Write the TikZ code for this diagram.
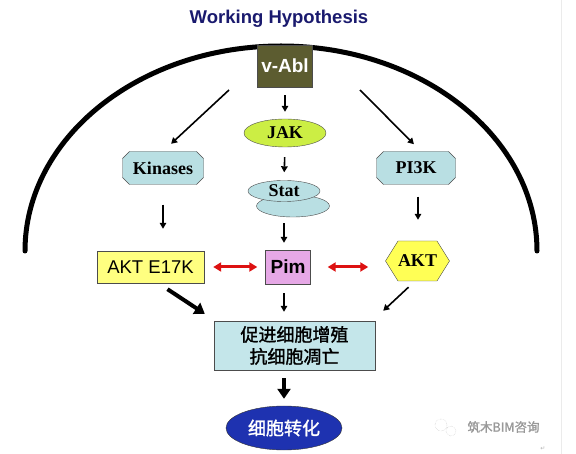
\documentclass[tikz,border=0pt]{standalone}
\usepackage{fontspec}
\setmainfont{Liberation Serif}
\setsansfont{Liberation Sans}
\newfontfamily\cjk[FakeBold=1.5]{Noto Sans CJK SC}
\newfontfamily\symfont{DejaVu Sans}
\usetikzlibrary{arrows.meta,shapes.geometric,shapes.misc,shapes.symbols,positioning}
\definecolor{titleblue}{HTML}{1A1A6E}
\definecolor{ablfill}{HTML}{5C5C30}
\definecolor{jakfill}{HTML}{CCEE44}
\definecolor{paleblue}{HTML}{B9DFE3}
\definecolor{boxblue}{HTML}{C4E6EA}
\definecolor{paleyellow}{HTML}{FFFF80}
\definecolor{pimfill}{HTML}{E6A8E6}
\definecolor{hexyellow}{HTML}{FFFF55}
\definecolor{cellblue}{HTML}{1E32B0}
\definecolor{redarrow}{HTML}{DD1111}

\begin{document}
\begin{tikzpicture}[x=1pt,y=-1pt,
  arr/.style={-{Triangle[length=6pt,width=6.5pt]},line width=1.6pt},
  bigarr/.style={-{Triangle[length=10pt,width=13pt]},line width=4pt},
  duoarr/.style={{Triangle[length=8pt,width=9pt]}-{Triangle[length=8pt,width=9pt]},line width=3pt,redarrow},
  serifbox/.style={draw=black!70,thin,font=\fontsize{18}{20}\selectfont\bfseries,inner sep=0pt},
  octbox/.style={serifbox,chamfered rectangle,chamfered rectangle xsep=3.5pt,chamfered rectangle ysep=3.5pt,
    fill=paleblue,minimum height=33pt},
  sansbox/.style={draw=black!70,thin,inner sep=0pt,font=\sffamily\fontsize{18.5}{20}\selectfont}]
  \useasboundingbox (0,0) rectangle (576,454);
  \draw[black!8,thin] (561,0) -- (561,454);
  \node[font=\sffamily\bfseries\fontsize{18.5}{20}\selectfont,text=titleblue] (title) at (279,19) {Working Hypothesis};
  % cell membrane
  \draw[line width=5pt,line cap=round] (25,251) arc[start angle=180,end angle=0,x radius=256pt,y radius=205pt];
  \node[sansbox,fill=ablfill,text=white,font=\sffamily\bfseries\fontsize{19}{20}\selectfont,
    minimum width=55pt,minimum height=42pt] (vabl) at (285,66) {v-Abl};
  \node[serifbox,ellipse,fill=jakfill,minimum width=82pt,minimum height=28pt] (jak) at (285,133) {JAK};
  \node[octbox,minimum width=81pt] (kinases) at (163,168) {Kinases};
  \node[octbox,minimum width=79pt] (pi3k) at (416,168) {PI3K};
  \node[serifbox,ellipse,fill=paleblue,minimum width=73pt,minimum height=22pt] (statback) at (293,206) {};
  \node[serifbox,ellipse,fill=paleblue,minimum width=72pt,minimum height=21pt] (stat) at (284,191) {Stat};
  \node[sansbox,fill=paleyellow,minimum width=107pt,minimum height=32pt] (akte) at (150.5,267) {AKT E17K};
  \node[sansbox,fill=pimfill,font=\sffamily\bfseries\fontsize{19}{20}\selectfont,
    minimum width=45pt,minimum height=34pt] (pim) at (288,267) {Pim};
  \node[serifbox,signal,signal to=east and west,signal pointer angle=116,
    fill=hexyellow,minimum width=55pt,minimum height=40pt] (akt) at (417.5,261) {AKT};
  \node[sansbox,fill=boxblue,minimum width=161pt,minimum height=49pt,align=center,
    font=\cjk\fontsize{18}{22}\selectfont] (box) at (294.5,345.5) {促进细胞增殖\\抗细胞凋亡};
  \node[ellipse,draw=black!80,fill=cellblue,text=white,minimum width=116pt,minimum height=44pt,
    inner sep=0pt,font=\cjk\fontsize{18}{20}\selectfont] (cell) at (284,428) {细胞转化};
  % arrows
  \coordinate (kin-in) at (229,90);
  \coordinate (pi-in) at (360,90);
  \draw[arr,shorten >=11pt] (kin-in) -- (kinases.north);
  \draw[arr,shorten >=10pt] (pi-in) -- ([xshift=5pt]pi3k.north);
  \draw[arr,shorten <=8pt,shorten >=7pt] (vabl.south) -- (jak.north);
  \draw[arr,shorten <=10pt,shorten >=8pt] (jak.south) -- (stat.north);
  \draw[arr,shorten <=6pt,shorten >=7pt] (stat.south |- statback.south) -- (stat.south |- pim.north);
  \draw[arr,shorten <=20pt,shorten >=22pt] (kinases.south) -- (kinases.south |- akte.north);
  \draw[arr,shorten <=12pt,shorten >=21pt] ([xshift=2pt]pi3k.south) -- ([xshift=2pt]pi3k.south |- akt.north);
  \draw[arr,shorten <=9pt,shorten >=9pt] (stat.south |- pim.south) -- (stat.south |- box.north);
  \draw[duoarr,shorten <=9pt,shorten >=8pt] (akte.east) -- (pim.west);
  \draw[duoarr,shorten <=17pt,shorten >=17pt] (pim.east) -- (pim.east -| akt.west);
  \draw[bigarr] ([xshift=17pt,yshift=-6pt]akte.south) -- ([xshift=-9pt,yshift=7pt]box.north west);
  \draw[arr] ([xshift=-9pt,yshift=-6pt]akt.south) -- ([xshift=8pt,yshift=10pt]box.north east);
  \draw[bigarr,shorten <=8pt,shorten >=7pt] (stat.south |- box.south) -- (stat.south |- cell.north);
  % watermark
  \draw[gray!50,densely dotted] (441,425) circle (6pt) (451,431) circle (5pt);
  \node[text=gray!80,font=\cjk\fontsize{12.5}{14}\selectfont,anchor=west] (mark) at (464,427) {筑木BIM咨询};
  \node[text=gray!60,font=\symfont\fontsize{6}{7}\selectfont] (ret) at (543,449) {↵};
\end{tikzpicture}
\end{document}
